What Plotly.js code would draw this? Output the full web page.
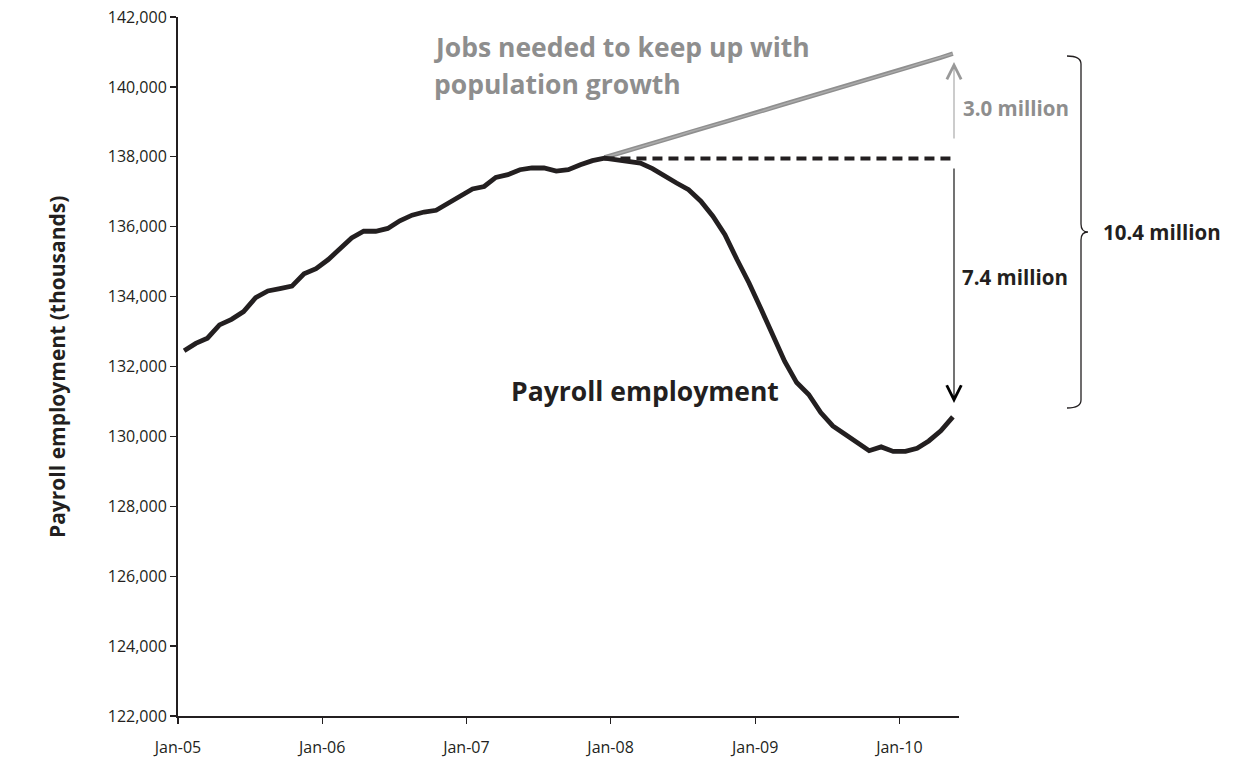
<!DOCTYPE html>
<html>
<head>
<meta charset="utf-8">
<script src="https://cdn.plot.ly/plotly-3.0.1.min.js"></script>
<style>
  html, body { margin: 0; padding: 0; background: #fff; }
  #chart { width: 1234px; height: 763px; }
</style>
</head>
<body>
<div id="chart"></div>
<script>
// ---- Data (thousands of jobs) ----
var months = [
  "2005-01","2005-02","2005-03","2005-04","2005-05","2005-06","2005-07","2005-08","2005-09","2005-10","2005-11","2005-12",
  "2006-01","2006-02","2006-03","2006-04","2006-05","2006-06","2006-07","2006-08","2006-09","2006-10","2006-11","2006-12",
  "2007-01","2007-02","2007-03","2007-04","2007-05","2007-06","2007-07","2007-08","2007-09","2007-10","2007-11","2007-12",
  "2008-01","2008-02","2008-03","2008-04","2008-05","2008-06","2008-07","2008-08","2008-09","2008-10","2008-11","2008-12",
  "2009-01","2009-02","2009-03","2009-04","2009-05","2009-06","2009-07","2009-08","2009-09","2009-10","2009-11","2009-12",
  "2010-01","2010-02","2010-03","2010-04","2010-05"
];

var payroll = [
  132450, 132660, 132810, 133190, 133350, 133570, 133970, 134160, 134230, 134300, 134650, 134800,
  135060, 135370, 135680, 135870, 135870, 135950, 136170, 136330, 136420, 136470, 136680, 136890,
  137080, 137150, 137410, 137490, 137630, 137680, 137680, 137590, 137630, 137770, 137890, 137960,
  137920, 137870, 137820, 137660, 137440, 137250, 137060, 136730, 136300, 135770, 135060, 134390,
  133630, 132920, 132150, 131540, 131200, 130680, 130300, 130060, 129820, 129590, 129700, 129570,
  129570, 129660, 129870, 130160, 130560
];

// Jobs needed to keep up with population growth (Dec-07 .. May-10)
var neededMonths = months.slice(35);
var needed = [
  137980, 138080, 138190, 138290, 138380, 138490, 138590, 138700, 138790, 138900, 139000, 139110, 139200,
  139300, 139410, 139510, 139610, 139710, 139820, 139920, 140020, 140120, 140230, 140330, 140430,
  140530, 140640, 140740, 140840, 140950
];

// Pre-recession peak level, held flat
var peakLevel = 137950;
var peakMonths = [months[35], months[months.length - 1]];
var peakValues = [peakLevel, peakLevel];

var yTickVals = [122000,124000,126000,128000,130000,132000,134000,136000,138000,140000,142000];

// ---- Layout geometry ----
var W = 1234, H = 763;
var M = {l: 178, r: 275, t: 17, b: 47};
var PW = W - M.l - M.r, PH = H - M.t - M.b;
function px(x) { return (x - M.l) / PW; }
function py(y) { return (M.t + PH - y) / PH; }

var FONT = '"Open Sans", "Noto Sans", Arial, sans-serif';
var INK = '#231f20';
var GREY = '#8e8e8e';

var traces = [
  {
    x: neededMonths, y: needed, type: 'scatter', mode: 'lines',
    xperiod: 'M1', xperiodalignment: 'middle',
    line: {color: '#8f8f8f', width: 4.5},
    hoverinfo: 'skip'
  },
  {
    x: neededMonths, y: needed, type: 'scatter', mode: 'lines',
    xperiod: 'M1', xperiodalignment: 'middle',
    line: {color: '#ababab', width: 1.5},
    hoverinfo: 'skip'
  },
  {
    x: peakMonths, y: peakValues, type: 'scatter', mode: 'lines',
    xperiod: 'M1', xperiodalignment: 'middle',
    line: {color: INK, width: 4, dash: '10px,6px'},
    hoverinfo: 'skip'
  },
  {
    x: months, y: payroll, type: 'scatter', mode: 'lines',
    xperiod: 'M1', xperiodalignment: 'middle',
    line: {color: INK, width: 4.8},
    hoverinfo: 'skip'
  }
];

// curly brace
var bx0 = 1067, bxv = 1081, bxt = 1088, byT = 56, byM = 232, byB = 408, r = 8;
function P(x, y) { return px(x).toFixed(5) + ',' + py(y).toFixed(5); }
var bracePath = 'M' + P(bx0, byT) +
  ' Q' + P(bxv, byT) + ' ' + P(bxv, byT + r) +
  ' L' + P(bxv, byM - r) +
  ' Q' + P(bxv, byM) + ' ' + P(bxt, byM) +
  ' Q' + P(bxv, byM) + ' ' + P(bxv, byM + r) +
  ' L' + P(bxv, byB - r) +
  ' Q' + P(bxv, byB) + ' ' + P(bx0, byB);

var layout = {
  width: W, height: H,
  margin: M,
  paper_bgcolor: '#ffffff',
  plot_bgcolor: '#ffffff',
  showlegend: false,
  font: {family: FONT, color: INK, size: 15},
  xaxis: {
    type: 'date',
    range: ['2005-01-01', '2010-06-01'],
    tickmode: 'linear',
    tick0: '2005-01-01',
    dtick: 'M12',
    tickformat: '%b-%y',
    ticks: 'outside', ticklen: 6, tickwidth: 1.2, tickcolor: INK,
    ticklabelstandoff: 10,
    showline: true, linecolor: INK, linewidth: 2,
    showgrid: false, zeroline: false,
    tickfont: {family: FONT, size: 16, color: INK},
    fixedrange: true
  },
  yaxis: {
    range: [122000, 142000],
    tickmode: 'array',
    tickvals: yTickVals,
    tickformat: ',d',
    ticks: 'outside', ticklen: 6, tickwidth: 1.2, tickcolor: INK,
    showline: true, linecolor: INK, linewidth: 2,
    showgrid: false, zeroline: false,
    tickfont: {family: FONT, size: 16, color: INK},
    fixedrange: true
  },
  shapes: [
    {type: 'path', xref: 'paper', yref: 'paper', path: bracePath,
     line: {color: INK, width: 1.3}}
  ],
  annotations: [
    {xref: 'paper', yref: 'paper', x: px(57), y: py(367), text: 'Payroll employment (thousands)',
     textangle: -90, showarrow: false, xanchor: 'center', yanchor: 'middle',
     font: {family: FONT, size: 21, color: INK, weight: 'bold'}},
    {xref: 'paper', yref: 'paper', x: px(432), y: py(47), text: 'Jobs needed to keep up with',
     showarrow: false, xanchor: 'left', yanchor: 'middle',
     font: {family: FONT, size: 26.5, color: GREY, weight: 'bold'}},
    {xref: 'paper', yref: 'paper', x: px(432), y: py(84), text: 'population growth',
     showarrow: false, xanchor: 'left', yanchor: 'middle',
     font: {family: FONT, size: 26.5, color: GREY, weight: 'bold'}},
    {xref: 'paper', yref: 'paper', x: px(509), y: py(391), text: 'Payroll employment',
     showarrow: false, xanchor: 'left', yanchor: 'middle',
     font: {family: FONT, size: 26.5, color: INK, weight: 'bold'}},
    {xref: 'paper', yref: 'paper', x: px(961), y: py(108), text: '3.0 million',
     showarrow: false, xanchor: 'left', yanchor: 'middle',
     font: {family: FONT, size: 20.5, color: GREY, weight: 'bold'}},
    {xref: 'paper', yref: 'paper', x: px(960), y: py(277), text: '7.4 million',
     showarrow: false, xanchor: 'left', yanchor: 'middle',
     font: {family: FONT, size: 20.5, color: INK, weight: 'bold'}},
    {xref: 'paper', yref: 'paper', x: px(1101), y: py(232), text: '10.4 million',
     showarrow: false, xanchor: 'left', yanchor: 'middle',
     font: {family: FONT, size: 20.5, color: INK, weight: 'bold'}},
    // grey arrow (up)
    {xref: 'paper', yref: 'paper', x: px(954), y: py(62), text: '',
     showarrow: true, arrowhead: 5, arrowsize: 2.8, arrowwidth: 1, arrowcolor: '#999999',
     ax: 0, ay: 78, standoff: 0, startstandoff: 0},
    // black arrow (down)
    {xref: 'paper', yref: 'paper', x: px(954), y: py(403), text: '',
     showarrow: true, arrowhead: 5, arrowsize: 2.6, arrowwidth: 1.1, arrowcolor: '#000000',
     ax: 0, ay: -236, standoff: 0, startstandoff: 0}
  ]
};

Plotly.newPlot('chart', traces, layout, {displayModeBar: false, staticPlot: true});
</script>
</body>
</html>
